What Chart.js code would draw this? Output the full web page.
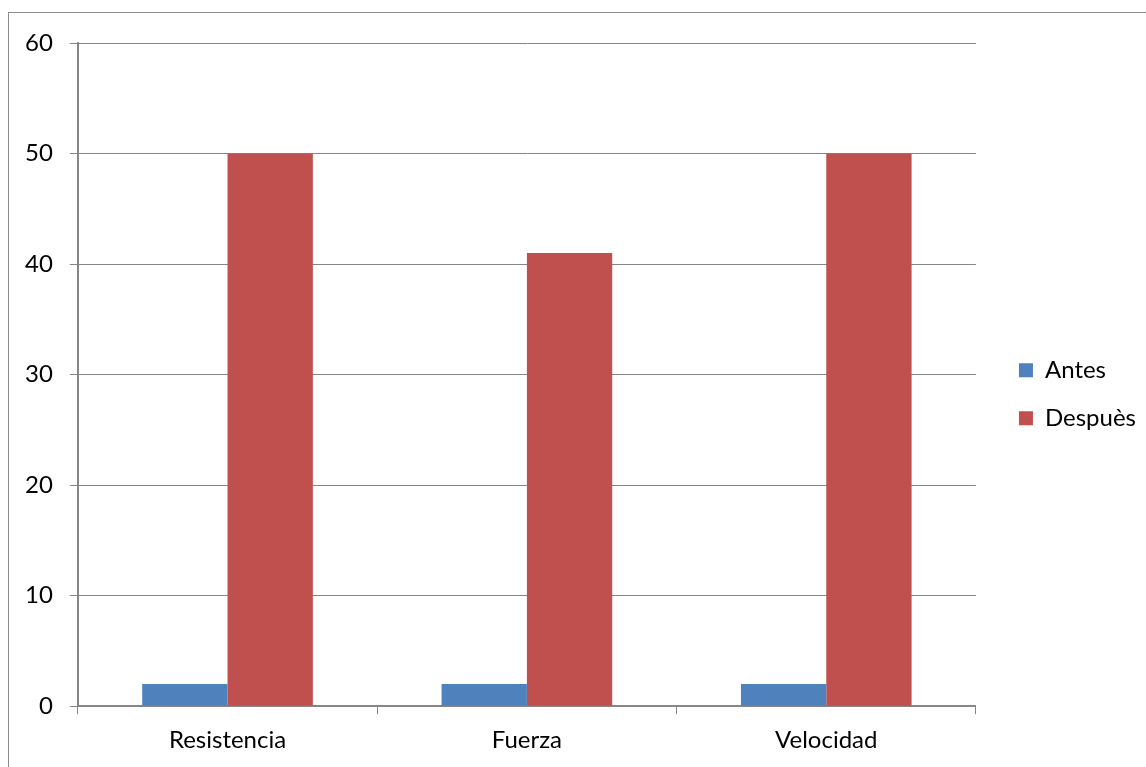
<!DOCTYPE html>
<html>
<head>
<meta charset="utf-8">
<script src="https://cdn.jsdelivr.net/npm/chart.js@4/dist/chart.umd.min.js"></script>
<style>
  html, body { margin: 0; padding: 0; background: #fff; }
  #wrap { position: relative; width: 1146px; height: 767px; overflow: hidden; }
  #frame { position: absolute; left: 8px; top: 12px; width: 1200px; height: 800px; border: 1px solid #8c8c8c; box-sizing: border-box; }
  #c { position: absolute; left: 0; top: 0; }
</style>
</head>
<body>
<div id="wrap">
  <div id="frame"></div>
  <canvas id="c" width="1146" height="767"></canvas>
</div>
<script>
// values
const categories = ['Resistencia', 'Fuerza', 'Velocidad'];
const antes = [2, 2, 2];
const despues = [50, 41, 50];
const seriesNames = ['Antes', 'Despuès'];

const gridGray = '#868686';
const fontFam = 'Lato, "Open Sans", sans-serif';

function chart() {
  var ctx = document.getElementById('c');
  new Chart(ctx, {
    type: 'bar',
    data: {
      labels: categories,
      datasets: [
        { label: seriesNames[0], data: antes, backgroundColor: '#4f81bd', borderWidth: 0 },
        { label: seriesNames[1], data: despues, backgroundColor: '#c0504d', borderWidth: 0 }
      ]
    },
    options: {
      responsive: false,
      animation: false,
      datasets: { bar: { categoryPercentage: 0.57, barPercentage: 1.0 } },
      layout: { padding: { top: 43, left: 8, right: 0, bottom: 0 } },
      scales: {
        x: {
          grid: { offset: true, drawOnChartArea: false, drawTicks: true, tickLength: 8, color: gridGray },
          border: { color: gridGray, width: 2 },
          ticks: { color: '#000', padding: 12, font: { family: fontFam, size: 24 } }
        },
        y: {
          min: 0, max: 60,
          ticks: { stepSize: 10, color: '#000', padding: 17, font: { family: fontFam, size: 24 } },
          grid: { color: gridGray, lineWidth: 1, tickLength: 8 },
          border: { color: gridGray, width: 2 }
        },
        // empty spacer between plot and legend
        gap: {
          position: 'right',
          ticks: { display: false },
          grid: { display: false },
          border: { display: false },
          afterFit: (s) => { s.width = 19; }
        }
      },
      plugins: {
        tooltip: { enabled: false },
        legend: {
          position: 'right',
          fullSize: false,
          title: { display: true, text: '', padding: { top: 25, bottom: 0 } },
          labels: {
            boxWidth: 14, boxHeight: 14, padding: 24, color: '#000',
            font: { family: fontFam, size: 24 }
          }
        }
      }
    }
  });
}
chart();
</script>
</body>
</html>
